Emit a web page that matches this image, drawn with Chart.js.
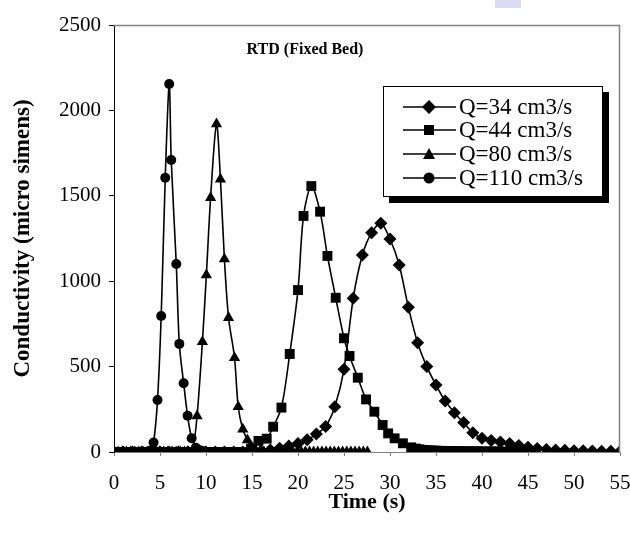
<!DOCTYPE html>
<html><head><meta charset="utf-8">
<script src="https://cdn.jsdelivr.net/npm/chart.js@4"></script>
<style>
html,body{margin:0;padding:0;background:#fff;}
#wrap{position:relative;width:630px;height:533px;overflow:hidden;}
#c{position:absolute;left:0;top:0;}
#title{position:absolute;left:205px;width:200px;top:40px;text-align:center;font-family:'Liberation Serif';font-weight:bold;font-size:16px;color:#000;}
#legend{position:absolute;left:383px;top:86px;width:218px;height:109px;border:1px solid #000;background:#fff;box-shadow:6px 6px 0 #000;font-family:'Liberation Serif';font-size:23px;color:#000;}
.row{position:absolute;left:0;height:24px;width:218px;}
.row svg{position:absolute;left:19px;top:0;}
.row span{position:absolute;left:75px;top:0;line-height:24px;white-space:nowrap;}
#mark{position:absolute;left:495px;top:0;width:26px;height:8px;background:#dcdcf4;}
</style></head>
<body>
<div id="wrap">
<canvas id="c" width="630" height="533"></canvas>
<div id="mark"></div>
<div id="title">RTD (Fixed Bed)</div>
<div id="legend"></div>
</div>
<script>
// Series names
const seriesNames = ['Q=34 cm3/s', 'Q=44 cm3/s', 'Q=80 cm3/s', 'Q=110 cm3/s'];

// Q=34 cm3/s (time s, conductivity)
const t34 = [0,1,2,3,4,5,6,7,8,9,10,11,12,13,14,15,16,17,18,19,20,21,22,23,24,25,26,27,28,29,30,31,32,33,34,35,36,37,38,39,40,41,42,43,44,45,46,47,48,49,50,51,52,53,54,55];
const c34 = [0,0,0,0,0,0,0,0,0,0,0,0,0,0,0,0,5,12,22,35,50,72,105,150,265,484,900,1153,1284,1339,1247,1095,847,640,500,392,299,230,172,113,80,68,58,50,38,28,20,15,12,10,8,7,6,5,4,3];

// Q=44 cm3/s
const t44 = [0,0.45,0.9,1.35,1.8,2.25,2.7,3.15,3.6,4.05,4.5,4.95,5.4,5.85,6.3,6.75,7.2,7.65,8.1,8.55,9.0,9.45,9.9,10.35,10.8,11.25,11.7,12.15,12.6,13.05,13.5,13.95,14.4,14.9,15.7,16.6,17.3,18.2,19.1,20.0,20.6,21.45,22.4,23.2,24.1,25.0,25.6,26.5,27.4,28.3,29.2,29.8,30.5,31.4,32.3,32.8,33.2,33.7,34.1,34.6,35.0,35.5,35.9,36.4,36.8,37.3,37.7,38.2,38.6,39.1,39.5,40.0,40.4,40.9,41.3,41.8,42.2,42.7,43.1,43.6,44.0,44.5,44.9,45.3,45.7];
const c44 = [0,0,0,0,0,0,0,0,0,0,0,0,0,0,0,0,0,0,0,0,0,0,0,0,0,0,0,0,0,0,0,0,0,20,65,78,148,260,574,948,1382,1557,1407,1148,903,666,562,435,308,236,158,109,80,51,27,20,16,12,10,9,8,7,6,6,5,5,5,4,4,4,4,3,3,3,3,3,2,2,2,2,2,2,1,1,1];

// Q=80 cm3/s
const t80 = [0,0.45,0.9,1.35,1.8,2.25,2.7,3.15,3.6,4.05,4.5,4.95,5.4,5.85,6.3,6.75,7.2,7.65,8.1,8.55,9.03,9.61,10.04,10.5,11.14,11.57,12.0,12.45,13.1,13.5,14.0,14.5,14.95,15.4,15.85,16.3,16.75,17.2,17.65,18.1,18.55,19.0,19.45,19.9,20.35,20.8,21.25,21.7,22.15,22.6,23.05,23.5,23.95,24.4,24.85,25.3,25.75,26.2,26.65,27.1,27.55];
const c80 = [0,0,0,0,0,0,0,0,0,0,0,0,0,0,0,0,0,0,0,10,211,646,1036,1489,1920,1597,1130,786,552,265,133,70,30,10,0,0,0,0,0,0,0,0,0,0,0,0,0,0,0,0,0,0,0,0,0,0,0,0,0,0,0];

// Q=110 cm3/s
const t110 = [0,0.45,0.9,1.35,1.8,2.25,2.7,3.15,3.6,3.95,4.3,4.73,5.13,5.57,6.0,6.22,6.77,7.1,7.57,8.0,8.44,8.9,9.35,9.8,10.25,10.7,11.15,11.6,12.05,12.5,12.95,13.4,13.85,14.3];
const c110 = [0,0,0,0,0,0,0,0,0,8,55,304,796,1606,2155,1710,1101,633,403,212,81,25,10,5,0,0,0,0,0,0,0,0,0,0];

// Axis ticks
const xTicks = [0,5,10,15,20,25,30,35,40,45,50,55];
const yTicks = [0,500,1000,1500,2000,2500];

const pts = (t, c) => t.map((v, i) => ({x: v, y: c[i]}));
const styles = [
  {pointStyle:'rectRot', radius:6.5},
  {pointStyle:'rect', radius:7},
  {pointStyle:'triangle', radius:6.5},
  {pointStyle:'circle', radius:5}
];
const seriesData = [pts(t34,c34), pts(t44,c44), pts(t80,c80), pts(t110,c110)];

const FF = 'Liberation Serif';

const frame = {
  id:'frame',
  afterDatasetsDraw(chart){
    const {ctx, chartArea:a} = chart;
    ctx.save();
    ctx.strokeStyle = '#808080';
    ctx.lineWidth = 1.5;
    ctx.beginPath();
    ctx.moveTo(a.left, a.top + 0.5);
    ctx.lineTo(a.right - 0.5, a.top + 0.5);
    ctx.lineTo(a.right - 0.5, a.bottom);
    ctx.stroke();
    ctx.restore();
  }
};

new Chart(document.getElementById('c'), {
  type:'scatter',
  data:{
    datasets: seriesData.map((d, i) => ({
      label: seriesNames[i],
      data: d,
      showLine: true,
      borderColor:'#000',
      backgroundColor:'#000',
      borderWidth:1.6,
      tension:0.3,
      pointStyle: styles[i].pointStyle,
      pointRadius: styles[i].radius,
      pointBackgroundColor:'#000',
      pointBorderColor:'#000',
      pointBorderWidth:0,
      order: 4 - i
    }))
  },
  options:{
    responsive:false,
    animation:false,
    devicePixelRatio:1,
    layout:{padding:{left:0,right:0,top:25,bottom:0}},
    plugins:{legend:{display:false},title:{display:false},tooltip:{enabled:false}},
    scales:{
      x:{
        type:'linear', min:0, max:55,
        afterBuildTicks(s){ s.ticks = xTicks.map(v => ({value:v})); },
        ticks:{font:{family:FF,size:21},color:'#000',padding:15,maxRotation:0,autoSkip:false,callback:v => String(v)},
        grid:{drawOnChartArea:false,drawTicks:true,tickLength:4,color:'#808080'},
        border:{color:'#808080',width:1},
        title:{display:true,text:'Time (s)',color:'#000',font:{family:FF,size:22,weight:'bold'},padding:{top:0,bottom:17}},
        afterFit(s){ s.height = 81; s.paddingRight = 10; s.paddingLeft = 0; }
      },
      y:{
        type:'linear', min:0, max:2500,
        afterBuildTicks(s){ s.ticks = yTicks.map(v => ({value:v})); },
        ticks:{font:{family:FF,size:21},color:'#000',padding:8,callback:v => String(v)},
        grid:{drawOnChartArea:false,drawTicks:true,tickLength:5,color:'#000'},
        border:{color:'#000',width:1},
        title:{display:true,text:'Conductivity (micro simens)',color:'#000',font:{family:FF,size:23,weight:'bold'},padding:{top:9,bottom:0}},
        afterFit(s){ s.width = 114; s.paddingTop = 0; s.paddingBottom = 0; }
      }
    }
  },
  plugins:[frame]
});

// Legend (HTML)
const lg = document.getElementById('legend');
const rowTops = [8, 31, 55, 79];
seriesNames.forEach((name, i) => {
  const r = document.createElement('div');
  r.className = 'row';
  r.style.top = rowTops[i] + 'px';
  let shape = '';
  if (i === 0) shape = '<polygon points="26,5 33,12 26,19 19,12" fill="#000"/>';
  if (i === 1) shape = '<rect x="21" y="7" width="10" height="10" fill="#000"/>';
  if (i === 2) shape = '<polygon points="26,6 32,17 20,17" fill="#000"/>';
  if (i === 3) shape = '<circle cx="26" cy="12" r="5.5" fill="#000"/>';
  r.innerHTML = '<svg width="54" height="24"><line x1="0" y1="12" x2="53" y2="12" stroke="#000" stroke-width="1.6"/>' + shape + '</svg><span>' + name + '</span>';
  lg.appendChild(r);
});
</script>
</body></html>
